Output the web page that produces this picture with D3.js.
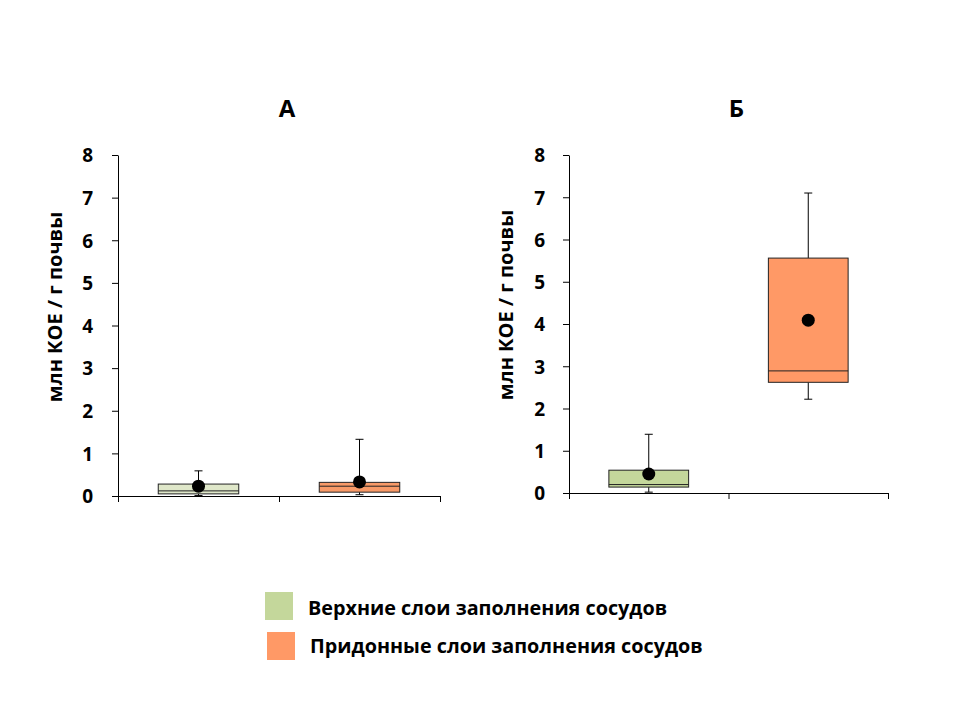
<!DOCTYPE html>
<html>
<head>
<meta charset="utf-8">
<script src="https://cdn.jsdelivr.net/npm/d3@7"></script>
<style>
  body { margin: 0; background: #fff; }
  text { font-family: "Open Sans", "DejaVu Sans", sans-serif; font-weight: bold; fill: #000; }
</style>
</head>
<body>
<svg id="chart" width="960" height="720"></svg>
<script>
// Data
const groups = ["Верхние слои заполнения сосудов", "Придонные слои заполнения сосудов"];
const panelTitles = ["А", "Б"];
const yTicks = [0, 1, 2, 3, 4, 5, 6, 7, 8];

// panel A (min, q1, median, q3, max, mean per group)
const aMin = [0.01, 0.03];
const aQ1 = [0.05, 0.09];
const aMedian = [0.12, 0.23];
const aQ3 = [0.28, 0.32];
const aMax = [0.59, 1.33];
const aMean = [0.23, 0.33];

// panel B
const bMin = [0.02, 2.22];
const bQ1 = [0.14, 2.62];
const bMedian = [0.2, 2.89];
const bQ3 = [0.54, 5.56];
const bMax = [1.39, 7.1];
const bMean = [0.45, 4.09];

const svg = d3.select("#chart");

function drawPanel(opts) {
  const { left, top, bottom, width, title, stats, fills, pad, labelY } = opts;
  const g = svg.append("g").attr("transform", `translate(${left},0)`);

  const y = d3.scaleLinear().domain([0, 8]).range([bottom, top]);
  const x = d3.scaleBand().domain(groups).range([0, width]);
  const xEdge = d3.scaleLinear().domain([0, 2]).range([0, width]);

  // y axis
  const yAxis = g.append("g")
    .call(d3.axisLeft(y).tickValues(yTicks).tickSize(6).tickSizeOuter(0).tickPadding(pad));
  yAxis.select(".domain").attr("stroke", "#000");
  yAxis.selectAll(".tick line").attr("stroke", "#000");
  yAxis.selectAll(".tick text")
    .attr("fill", "#000")
    .style("font-size", "19px")
    .attr("dy", "0.36em");

  // x axis (ticks at category boundaries)
  const xAxis = g.append("g")
    .attr("transform", `translate(0,${bottom})`)
    .call(d3.axisBottom(xEdge).tickValues([0, 1, 2]).tickSize(6).tickSizeOuter(0).tickFormat(""));
  xAxis.select(".domain").attr("stroke", "#000");
  xAxis.selectAll(".tick line").attr("stroke", "#000");

  // panel title
  g.append("text")
    .attr("x", width / 2 + 8)
    .attr("y", 117)
    .attr("text-anchor", "middle")
    .style("font-size", "24px")
    .text(title);

  // y label
  g.append("text")
    .attr("transform", `translate(-56,${labelY}) rotate(-90)`)
    .attr("text-anchor", "middle")
    .style("font-size", "20px")
    .text("млн КОЕ / г почвы");

  const bw = x.bandwidth() * 0.5;
  const cap = 8;

  groups.forEach((grp, i) => {
    const cx = x(grp) + x.bandwidth() / 2;

    // whiskers
    g.append("line")
      .attr("x1", cx).attr("x2", cx)
      .attr("y1", y(stats.max[i])).attr("y2", y(stats.q3[i]))
      .attr("stroke", "#000");
    g.append("line")
      .attr("x1", cx).attr("x2", cx)
      .attr("y1", y(stats.q1[i])).attr("y2", y(stats.min[i]))
      .attr("stroke", "#000");
    [stats.max[i], stats.min[i]].forEach(v => {
      g.append("line")
        .attr("x1", cx - cap / 2).attr("x2", cx + cap / 2)
        .attr("y1", y(v)).attr("y2", y(v))
        .attr("stroke", "#000");
    });

    // box
    g.append("rect")
      .attr("x", cx - bw / 2)
      .attr("y", y(stats.q3[i]))
      .attr("width", bw)
      .attr("height", y(stats.q1[i]) - y(stats.q3[i]))
      .attr("fill", fills[i])
      .attr("stroke", "#222")
      .attr("stroke-width", 1);

    // median
    g.append("line")
      .attr("x1", cx - bw / 2).attr("x2", cx + bw / 2)
      .attr("y1", y(stats.median[i])).attr("y2", y(stats.median[i]))
      .attr("stroke", "#222");

    // mean
    g.append("circle")
      .attr("cx", cx)
      .attr("cy", y(stats.mean[i]))
      .attr("r", 6.5)
      .attr("fill", "#000");
  });
}

drawPanel({
  left: 118, top: 155, bottom: 496, width: 322, title: panelTitles[0],
  stats: { min: aMin, q1: aQ1, median: aMedian, q3: aQ3, max: aMax, mean: aMean },
  fills: ["#dfe7c9", "#f89a68"], pad: 19, labelY: 307
});

drawPanel({
  left: 569, top: 155, bottom: 493, width: 319, title: panelTitles[1],
  stats: { min: bMin, q1: bQ1, median: bMedian, q3: bQ3, max: bMax, mean: bMean },
  fills: ["#c4d79b", "#ff9966"], pad: 18, labelY: 305
});

// Legend
const legendColors = ["#c4d79b", "#ff9966"];
const legend = svg.append("g");
groups.forEach((grp, i) => {
  legend.append("rect")
    .attr("x", 265 + i * 2)
    .attr("y", 592 + i * 40)
    .attr("width", 28)
    .attr("height", 28)
    .attr("fill", legendColors[i]);
  legend.append("text")
    .attr("x", 308 + i * 2)
    .attr("y", 615 + i * 38)
    .style("font-size", "19.8px")
    .text(grp);
});
</script>
</body>
</html>
